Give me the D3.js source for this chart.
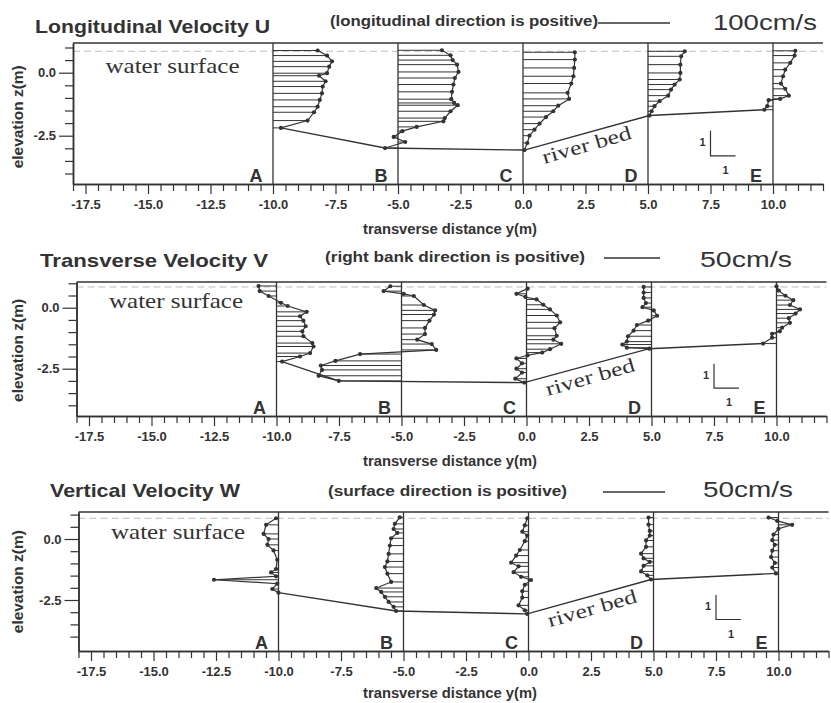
<!DOCTYPE html>
<html>
<head>
<meta charset="utf-8">
<script src="https://cdn.jsdelivr.net/npm/d3@7"></script>
<style>
body { margin: 0; background: #fff; }
svg text { fill: #333; }
.sans { font-family: "Liberation Sans", Arial, sans-serif; font-weight: bold; }
.serif { font-family: "Liberation Serif", "Times New Roman", serif; }
</style>
</head>
<body>
<svg id="chart" width="831" height="703"></svg>
<script>
/*
 * Velocity profiles across a river section, three components (U, V, W).
 * Each profile hangs from its station line: [elevation z (m), velocity (cm/s)].
 */

var stations = [-10, -5, 0, 5, 10];
var stationNames = ["A", "B", "C", "D", "E"];
var xTickLabels = [-17.5, -15, -12.5, -10, -7.5, -5, -2.5, 0, 2.5, 5, 7.5, 10];
var zTickLabels = [0, -2.5];
var waterSurface = 0.85;

// longitudinal velocity U
var uA = [[0.88,62],[0.68,75],[0.45,82],[0.24,78],[-0.02,75],[-0.12,64],[-0.34,73],[-0.55,69],[-0.82,68],[-1.08,65],[-1.35,62],[-1.57,57],[-1.90,48],[-2.19,11]];
var uB = [[0.89,61],[0.69,73],[0.50,76],[0.32,82],[0.03,84],[-0.21,79],[-0.47,77],[-0.76,75],[-1.05,74],[-1.20,78],[-1.29,83],[-1.53,73],[-1.80,65],[-1.93,63],[-2.15,26],[-2.32,6],[-2.55,-6],[-2.75,10],[-2.99,-18]];
var uC = [[0.81,72],[0.52,72],[0.19,71],[-0.14,70],[-0.43,67],[-0.80,62],[-1.04,64],[-1.31,49],[-1.53,42],[-1.76,32],[-2.02,23],[-2.26,16],[-2.50,9],[-2.79,6],[-3.07,2]];
var uD = [[0.85,51],[0.65,46],[0.32,45],[-0.01,45],[-0.27,44],[-0.47,37],[-0.67,32],[-0.91,28],[-1.13,16],[-1.33,9],[-1.53,5],[-1.70,2]];
var uE = [[0.87,31],[0.68,30],[0.39,24],[0.12,17],[-0.14,14],[-0.43,11],[-0.64,17],[-0.91,22],[-1.04,10],[-1.09,-6],[-1.33,-8],[-1.47,-12]];

// transverse velocity V
var vA = [[0.89,-16],[0.68,-15],[0.48,-7],[0.20,4],[0.07,10],[-0.17,27],[-0.35,21],[-0.53,24],[-0.76,26],[-0.97,23],[-1.17,24],[-1.45,32],[-1.59,33],[-1.86,30],[-2.00,21],[-2.21,5]];
var vB = [[0.88,-10],[0.68,-16],[0.57,2],[0.48,11],[0.11,20],[-0.11,30],[-0.28,29],[-0.53,25],[-0.83,21],[-1.08,21],[-1.31,14],[-1.49,27],[-1.73,31],[-1.90,-37],[-2.18,-59],[-2.37,-72],[-2.55,-71],[-2.79,-74],[-3.00,-56]];
var vC = [[0.78,1],[0.57,-9],[0.44,-1],[0.34,9],[0.12,15],[-0.07,21],[-0.32,27],[-0.60,30],[-0.84,25],[-1.15,27],[-1.31,24],[-1.48,31],[-1.70,21],[-1.84,14],[-1.95,1],[-2.08,-9],[-2.28,-4],[-2.50,-9],[-2.66,-4],[-2.91,-10],[-3.07,-2]];
var vD = [[0.85,-7],[0.62,-7],[0.40,-7],[0.19,-5],[0.02,-8],[-0.11,2],[-0.33,5],[-0.53,-3],[-0.71,-13],[-0.94,-16],[-1.17,-21],[-1.39,-22],[-1.51,-26],[-1.64,-22],[-1.68,-2]];
var vE = [[0.88,0],[0.70,2],[0.49,8],[0.31,15],[0.11,12],[-0.07,21],[-0.24,17],[-0.43,11],[-0.62,12],[-0.82,5],[-0.97,3],[-1.07,-4],[-1.23,-4],[-1.47,-12]];

// vertical velocity W
var wA = [[0.85,-2],[0.58,-10],[0.21,-12],[0.00,-8],[-0.24,-9],[-0.47,-4],[-0.85,-1],[-1.23,-2],[-1.37,-6],[-1.53,-2],[-1.67,-52],[-1.83,-1],[-2.05,-5],[-2.20,0]];
var wB = [[0.89,-3],[0.62,-7],[0.41,-8],[0.25,-5],[0.03,-10],[-0.27,-11],[-0.61,-12],[-0.92,-13],[-1.15,-15],[-1.42,-13],[-1.76,-10],[-2.01,-22],[-2.17,-18],[-2.37,-15],[-2.58,-12],[-2.78,-8],[-2.95,-6]];
var wC = [[0.85,-1],[0.56,-3],[0.30,-5],[0.14,-1],[-0.09,-3],[-0.45,-7],[-0.68,-10],[-0.97,-14],[-1.12,-8],[-1.36,-12],[-1.55,-6],[-1.68,2],[-1.88,-3],[-2.14,-5],[-2.40,-5],[-2.72,-8],[-2.92,-3],[-3.07,-1]];
var wD = [[0.88,-4],[0.59,-4],[0.33,-3],[0.14,-3],[-0.06,-6],[-0.32,-6],[-0.60,-10],[-0.79,-8],[-0.94,-3],[-1.10,-8],[-1.33,-10],[-1.49,-5],[-1.66,-2]];
var wE = [[0.88,-8],[0.74,-1],[0.58,11],[0.42,0],[0.18,-4],[-0.05,-5],[-0.24,-3],[-0.48,-5],[-0.74,-6],[-0.98,-3],[-1.17,-5],[-1.41,-2]];

// panel settings (layout only, values come from the arrays above)
var panels = [
    {title: "Longitudinal Velocity U", note: "(longitudinal direction is positive)", speed: "100cm/s",
     refSpeed: 100, refLen: 72, profiles: [uA, uB, uC, uD, uE],
     left: 73, zero: 72.7, ppm: 25.2, top: 43, bottom: 184,
     titleX: 35, titleW: 235, titleY: 33, noteX: 330, noteW: 268, noteY: 26,
     refX: 598, refY: 23, speedX: 713, speedW: 104, speedY: 30, xTitleY: 234},
    {title: "Transverse Velocity V", note: "(right bank direction is positive)", speed: "50cm/s",
     refSpeed: 50, refLen: 56, profiles: [vA, vB, vC, vD, vE],
     left: 76.5, zero: 307.7, ppm: 24.4, top: 282, bottom: 416,
     titleX: 40, titleW: 228, titleY: 267, noteX: 325, noteW: 260, noteY: 262,
     refX: 604, refY: 258, speedX: 700, speedW: 92, speedY: 267, xTitleY: 466},
    {title: "Vertical Velocity W", note: "(surface direction is positive)", speed: "50cm/s",
     refSpeed: 50, refLen: 62, profiles: [wA, wB, wC, wD, wE],
     left: 78.5, zero: 539, ppm: 24.4, top: 512, bottom: 651,
     titleX: 50, titleW: 190, titleY: 497, noteX: 328, noteW: 239, noteY: 496,
     refX: 603, refY: 492, speedX: 703, speedW: 90, speedY: 497, xTitleY: 698}
];

var svg = d3.select("#chart");
var ink = "#333";
var fmt = function(d) { return d.toFixed(1); };

panels.forEach(drawPanel);

function styleAxis(sel, size) {
    sel.selectAll("path.domain").attr("stroke", ink).attr("stroke-width", 1.5);
    sel.selectAll(".tick line").attr("stroke", ink).attr("stroke-width", 1.2);
    sel.selectAll(".tick text").attr("class", "sans").attr("font-size", size).attr("fill", ink);
    sel.attr("font-family", null);
}

// text stretched to the width it has in the scan
function wideText(g, cls, size, x, y, w, str) {
    return g.append("text").attr("class", cls).attr("font-size", size)
    .attr("x", x).attr("y", y)
    .attr("textLength", w).attr("lengthAdjust", "spacingAndGlyphs")
    .text(str);
}

function drawPanel(p) {
    var zTop = (p.zero - p.top) / p.ppm;
    var zBot = (p.zero - p.bottom) / p.ppm;
    var x = d3.scaleLinear().domain([-18, 12]).range([p.left, p.left + 750]);
    var y = d3.scaleLinear().domain([zBot, zTop]).range([p.bottom, p.top]);
    var v = d3.scaleLinear().domain([0, p.refSpeed]).range([0, p.refLen]);
    var g = svg.append("g");

    // water surface, faint dashed
    g.append("line")
    .attr("x1", x(-18)).attr("x2", x(12)).attr("y1", y(waterSurface)).attr("y2", y(waterSurface))
    .attr("stroke", "#b5b5b5").attr("stroke-width", 0.9).attr("stroke-dasharray", "7,4");

    // top frame line
    g.append("line")
    .attr("x1", x(-18)).attr("x2", x(12)).attr("y1", y(zTop)).attr("y2", y(zTop))
    .attr("stroke", ink).attr("stroke-width", 1.4);

    // station lines
    g.selectAll("line.station").data(stations).enter().append("line")
    .attr("class", "station")
    .attr("x1", function(d) { return x(d); }).attr("x2", function(d) { return x(d); })
    .attr("y1", y(zTop)).attr("y2", y(zBot))
    .attr("stroke", ink).attr("stroke-width", 1.3);

    // x axis: minor ticks every 0.5 m, labelled ticks every 2.5 m
    var xMinor = d3.range(-18, 12.001, 0.5).filter(function(d) {
        return Math.abs(d / 2.5 - Math.round(d / 2.5)) > 1e-6;
    });
    g.append("g").attr("transform", "translate(0," + p.bottom + ")")
    .call(d3.axisBottom(x).tickValues(xMinor).tickSize(7).tickSizeOuter(0).tickFormat(""))
    .call(styleAxis, 13);
    g.append("g").attr("transform", "translate(0," + p.bottom + ")")
    .call(d3.axisBottom(x).tickValues(xTickLabels).tickSize(10).tickSizeOuter(0).tickPadding(6).tickFormat(fmt))
    .call(styleAxis, 13);

    // y axis
    var zMinor = d3.range(1.0, -4.001, -0.5).filter(function(d) {
        return zTickLabels.indexOf(d) < 0;
    });
    g.append("g").attr("transform", "translate(" + p.left + ",0)")
    .call(d3.axisLeft(y).tickValues(zMinor).tickSize(8).tickSizeOuter(0).tickFormat(""))
    .call(styleAxis, 13);
    g.append("g").attr("transform", "translate(" + p.left + ",0)")
    .call(d3.axisLeft(y).tickValues(zTickLabels).tickSize(14).tickSizeOuter(0).tickPadding(3).tickFormat(fmt))
    .call(styleAxis, 13);

    // axis titles
    wideText(g, "sans", 14, 363, p.xTitleY, 174, "transverse distance y(m)");
    g.append("text").attr("class", "sans").attr("font-size", 14)
    .attr("text-anchor", "middle")
    .attr("transform", "translate(23," + y(-1.75) + ")rotate(-90)")
    .attr("textLength", 103).attr("lengthAdjust", "spacingAndGlyphs")
    .text("elevation z(m)");

    // river bed: joins the deepest point of each profile
    var bed = p.profiles.map(function(prof, i) {
        var last = prof[prof.length - 1];
        return [x(stations[i]) + v(last[1]), y(last[0])];
    });
    g.append("path").attr("d", d3.line()(bed))
    .attr("fill", "none").attr("stroke", ink).attr("stroke-width", 1.4);

    // profiles: hatching bars, polyline and dots
    p.profiles.forEach(function(prof, i) {
        var x0 = x(stations[i]);
        var px = function(d) { return x0 + v(d[1]); };
        var py = function(d) { return y(d[0]); };
        g.append("g").selectAll("line").data(prof).enter().append("line")
        .attr("x1", x0).attr("x2", px).attr("y1", py).attr("y2", py)
        .attr("stroke", ink).attr("stroke-width", 1);
        g.append("path").datum(prof)
        .attr("d", d3.line().x(px).y(py))
        .attr("fill", "none").attr("stroke", ink).attr("stroke-width", 1.2);
        g.append("g").selectAll("circle").data(prof).enter().append("circle")
        .attr("cx", px).attr("cy", py).attr("r", 2.1).attr("fill", ink);
    });

    // station names
    g.selectAll("text.stn").data(stations).enter().append("text")
    .attr("class", "sans stn").attr("font-size", 18).attr("text-anchor", "middle")
    .attr("x", function(d) { return x(d) - 17; }).attr("y", p.bottom - 2)
    .text(function(d, i) { return stationNames[i]; });

    // labels inside the section
    wideText(g, "serif", 21, x(-16.7), y(0), 134, "water surface");
    g.append("text").attr("class", "serif").attr("font-size", 20)
    .attr("transform", "translate(" + x(0.85) + "," + y(-3.62) + ")rotate(-16)")
    .attr("textLength", 92).attr("lengthAdjust", "spacingAndGlyphs")
    .text("river bed");

    // 1 m length scale
    g.append("path")
    .attr("d", d3.line()([[x(7.5), y(-2.3)], [x(7.5), y(-3.3)], [x(8.5), y(-3.3)]]))
    .attr("fill", "none").attr("stroke", ink).attr("stroke-width", 1.2);
    g.append("text").attr("class", "sans").attr("font-size", 11).attr("text-anchor", "end")
    .attr("x", x(7.5) - 5).attr("y", y(-2.75) + 4).text("1");
    g.append("text").attr("class", "sans").attr("font-size", 11).attr("text-anchor", "middle")
    .attr("x", x(8.1)).attr("y", y(-3.3) + 18).text("1");

    // headings and velocity reference
    wideText(g, "sans", 19, p.titleX, p.titleY, p.titleW, p.title);
    wideText(g, "sans", 14, p.noteX, p.noteY, p.noteW, p.note);
    g.append("line")
    .attr("x1", p.refX).attr("x2", p.refX + v(p.refSpeed)).attr("y1", p.refY).attr("y2", p.refY)
    .attr("stroke", ink).attr("stroke-width", 1.5);
    wideText(g, null, 22, p.speedX, p.speedY, p.speedW, p.speed)
    .attr("font-family", "Liberation Sans, Arial, sans-serif");
}
</script>
</body>
</html>
